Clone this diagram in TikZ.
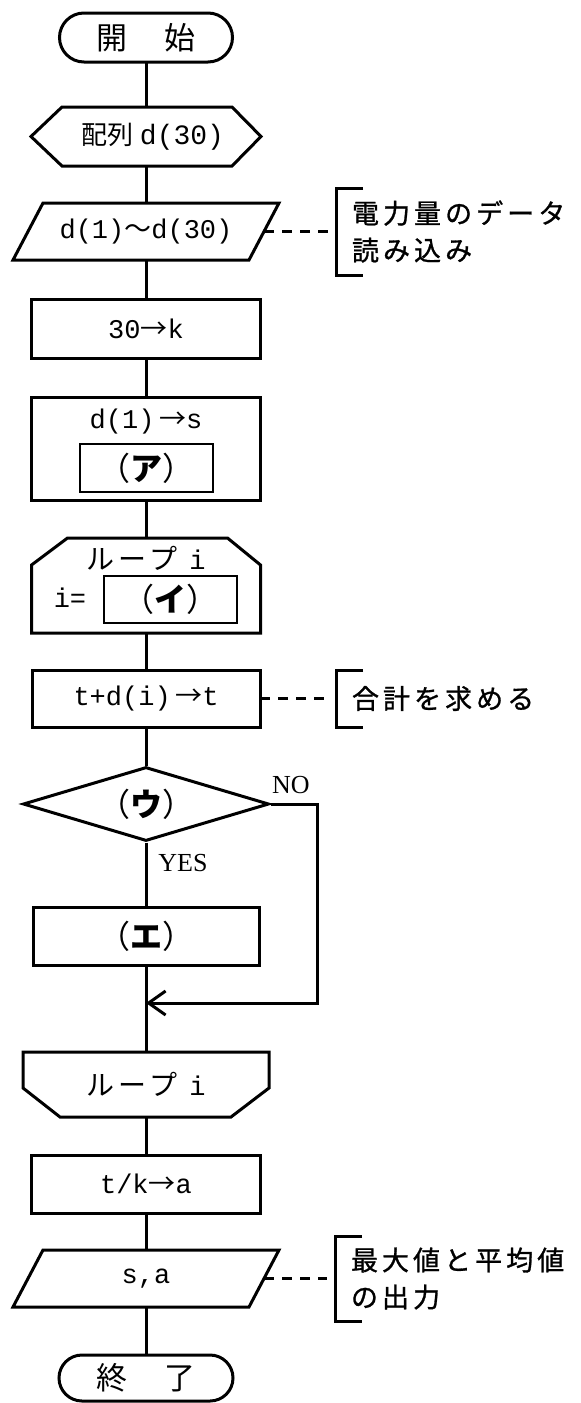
\documentclass[tikz,border=0pt]{standalone}
\usepackage{fontspec}
\setmainfont{Liberation Serif}
\newfontfamily\cjk{Noto Sans CJK JP}
\newfontfamily\cjkls[LetterSpace=15]{Noto Sans CJK JP}
\newfontfamily\cjkann[LetterSpace=15,FakeBold=1]{Noto Sans CJK JP}
\newfontfamily\mono{Liberation Mono}
\usetikzlibrary{arrows.meta,shapes.geometric}
\begin{document}
\begin{tikzpicture}[x=1pt,y=-1pt,line width=3pt,
  every node/.style={font=\fontsize{27}{30}\selectfont},
  lbl/.style={inner sep=0pt},
  frame/.style={rectangle, inner sep=0pt, outer sep=0pt},
  box/.style={frame, draw},
  inbox/.style={frame, draw, line width=2.4pt},
  kana/.style={font=\fontsize{32}{34}\selectfont\cjk},
  note/.style={frame, anchor=west, align=left, inner xsep=16pt, font=\fontsize{27}{37}\selectfont\cjkann},
  yn/.style={inner sep=0pt, font=\fontsize{26}{28}\selectfont},
  link/.style={dash pattern=on 10pt off 8pt},
  brk/.style={line cap=butt}
]
\useasboundingbox (0,0) rectangle (581,1403);

% start terminal
\node[box, rounded corners=24.5pt, minimum width=173pt, minimum height=49pt] (start) at (146,37.5) {\cjk\fontsize{31}{33}\selectfont 開\hspace{38pt}始};

% hexagon (preparation)
\node[frame, minimum width=230pt, minimum height=59pt] (arr) at (146,136.5) {\hspace*{14pt}{\cjk\fontsize{26}{28}\selectfont 配列}\hspace{6pt}{\mono\fontsize{28}{30}\selectfont d(30)}};
\draw (arr.west) -- ([xshift=31pt]arr.north west) -- ([xshift=-29pt]arr.north east) -- (arr.east) -- ([xshift=-29pt]arr.south east) -- ([xshift=31pt]arr.south west) -- cycle;

% input parallelogram
\node[frame, minimum width=266pt, minimum height=57pt] (in) at (146,231.5) {\mono d(1){\cjk ～}d(30)};
\draw ([xshift=30pt]in.north west) -- (in.north east) -- ([xshift=-30pt]in.south east) -- (in.south west) -- cycle;

% 30 -> k
\node[box, minimum width=229pt, minimum height=59pt] (k) at (146,328.5) {\mono 30{\cjk →}k};

% d(1) -> s  + (ア)
\node[box, minimum width=229pt, minimum height=103pt] (s) at (146,448.5) {};
\node[lbl] (stext) at (146,422) {\mono d(1)\,{\cjk →}s};
\node[inbox, kana, minimum width=133pt, minimum height=48pt] (a) at (146.5,468) {（\textbf{ア}）};

% loop start
\node[frame, minimum width=229pt, minimum height=95pt] (ls) at (146,585.5) {};
\draw (ls.south west) -- ([yshift=-27pt]ls.north west) -- ([xshift=36pt]ls.north west) -- ([xshift=-33pt]ls.north east) -- ([yshift=-27pt]ls.north east) -- (ls.south east) -- cycle;
\node[lbl] (lstext) at (146,558) {{\cjkls\fontsize{28}{30}\selectfont ループ}\hspace{12pt}{\mono i}};
\node[lbl] (ieq) at (70,598) {\mono i=};
\node[inbox, kana, minimum width=133pt, minimum height=47pt] (b) at (170.5,599.5) {（\textbf{イ}）};

% t+d(i) -> t
\node[box, minimum width=228pt, minimum height=57pt] (t) at (146,698.5) {\mono t+d(i)\,{\cjk →}t};

% decision
\node[diamond, draw, kana, inner sep=0pt, aspect=3.3, minimum width=246pt, minimum height=74pt] (c) at (146,804) {（\textbf{ウ}）};
\node[yn] (no) at (291,785) {NO};
\node[yn] (yes) at (183,863) {YES};

% (エ)
\node[box, kana, minimum width=226pt, minimum height=58pt] (e) at (146,936) {（\textbf{エ}）};

\coordinate (j) at (146,1003);
\coordinate (r) at (317,1003);

% loop end
\node[frame, minimum width=246pt, minimum height=65pt] (le) at (146,1084.5) {{\cjkls\fontsize{28}{30}\selectfont ループ}\hspace{12pt}{\mono i}};
\draw (le.north west) -- (le.north east) -- ([yshift=29pt]le.south east) -- ([xshift=-38pt]le.south east) -- ([xshift=37pt]le.south west) -- ([yshift=29pt]le.south west) -- cycle;

% t/k -> a
\node[box, minimum width=229pt, minimum height=58pt] (avg) at (146,1184) {\mono t/k{\cjk →}a};

% output parallelogram
\node[frame, minimum width=266pt, minimum height=57pt] (out) at (146,1278.5) {\mono s,a};
\draw ([xshift=30pt]out.north west) -- (out.north east) -- ([xshift=-30pt]out.south east) -- (out.south west) -- cycle;

% end terminal
\node[box, rounded corners=23pt, minimum width=174pt, minimum height=46pt] (end) at (146,1378) {\cjk\fontsize{31}{33}\selectfont 終\hspace{38pt}了};

% flow lines
\draw (start) -- (arr);
\draw (arr) -- (in);
\draw (in) -- (k);
\draw (k) -- (s);
\draw (s) -- (ls);
\draw (ls) -- (t);
\draw (t) -- (c);
\draw (c) -- (e);
\draw (e) -- (le);
\draw[-{Straight Barb[length=17pt,width=24pt]}] (c.east) -| (r) -- (j);
\draw (le) -- (avg);
\draw (avg) -- (out);
\draw (out) -- (end);

% annotations
\node[note, minimum height=87pt] (n1) at (336,231.5) {電力量のデータ\\読み込み};
\draw[link] ([xshift=-15pt]in.east) -- ([xshift=-8pt]n1.west);
\draw[brk] ([xshift=27pt]n1.north west) -- (n1.north west) -- (n1.south west) -- ([xshift=27pt]n1.south west);

\node[note, minimum height=57pt] (n2) at (336,698.5) {合計を求める};
\draw[link] (t.east) -- ([xshift=-8pt]n2.west);
\draw[brk] ([xshift=27pt]n2.north west) -- (n2.north west) -- (n2.south west) -- ([xshift=27pt]n2.south west);

\node[note, minimum height=85pt] (n3) at (335,1278.5) {最大値と平均値\\の出力};
\draw[link] ([xshift=-15pt]out.east) -- ([xshift=-8pt]n3.west);
\draw[brk] ([xshift=27pt]n3.north west) -- (n3.north west) -- (n3.south west) -- ([xshift=27pt]n3.south west);
\end{tikzpicture}
\end{document}
